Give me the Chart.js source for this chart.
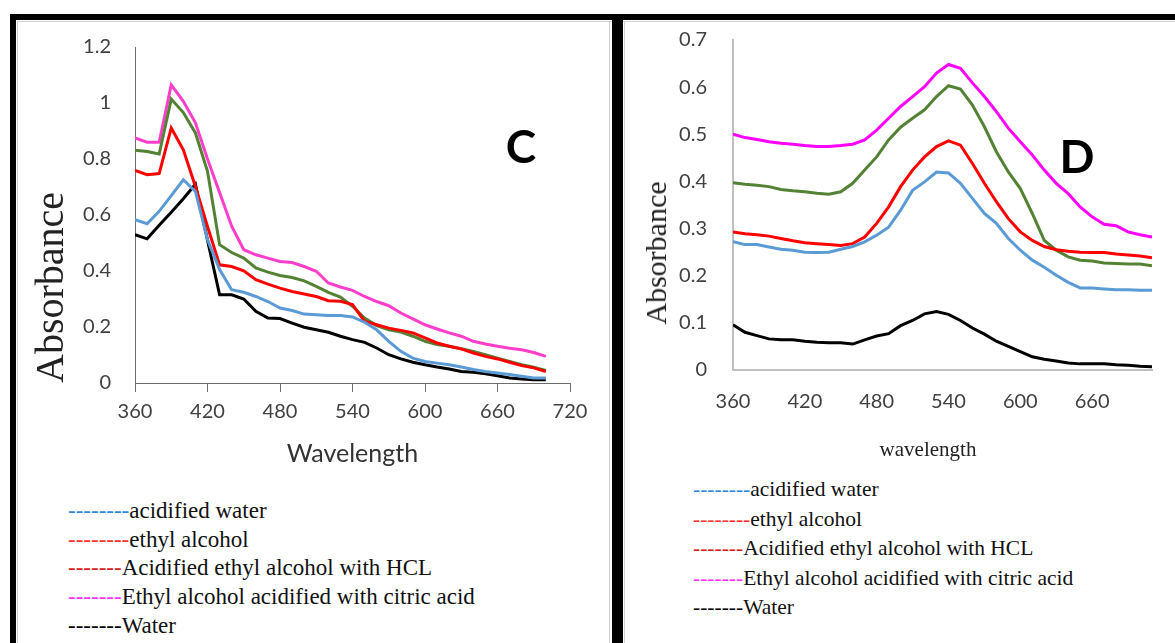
<!DOCTYPE html>
<html>
<head>
<meta charset="utf-8">
<script src="https://cdn.jsdelivr.net/npm/chart.js@4.4.1/dist/chart.umd.min.js"></script>
<style>
  body { margin: 0; background: #fff; }
  #page { position: relative; width: 1175px; height: 643px; overflow: hidden; background: #fff; }
  canvas { position: absolute; top: 0; }
  #chartC { left: 0; }
  #chartD { left: 624px; }
  .bar { position: absolute; background: #000; }
  .thin { position: absolute; background: #d0d0d0; }
  .panelLabel { position: absolute; font: bold 46px Lato, sans-serif; color: #000; transform: translate(-50%, -50%); }
  .serifTitle { position: absolute; font-family: "Liberation Serif", "Times New Roman", serif; color: #222; white-space: nowrap; transform: translate(-50%, -50%); }
  .legend div { position: absolute; font-family: "Liberation Serif", "Times New Roman", serif; line-height: 28px; color: #111; white-space: nowrap; }
  #legendC div { font-size: 23px; }
  #legendD div { font-size: 21.5px; }
</style>
</head>
<body>
<div id="page">
  <canvas id="chartC" width="612" height="480"></canvas>
  <canvas id="chartD" width="551" height="470"></canvas>

  <div class="thin" style="left:17px; top:21px; width:1158px; height:1px;"></div>
  <div class="thin" style="left:17px; top:21px; width:1px; height:622px;"></div>
  <div class="thin" style="left:609px; top:21px; width:1px; height:622px;"></div>
  <div class="thin" style="left:624px; top:21px; width:1px; height:622px;"></div>
  <div class="bar" style="left:10px; top:14px; width:1165px; height:6px;"></div>
  <div class="bar" style="left:10px; top:14px; width:6px; height:629px;"></div>
  <div class="bar" style="left:612px; top:14px; width:11px; height:629px;"></div>

  <div class="panelLabel" style="left:521px; top:145px;">C</div>
  <div class="panelLabel" style="left:1077px; top:155px;">D</div>
  <div class="serifTitle" style="left:656px; top:253px; font-size:30px; transform: translate(-50%, -50%) rotate(-90deg);">Absorbance</div>
  <div class="serifTitle" style="left:928px; top:449px; font-size:21px;">wavelength</div>

  <div class="legend" id="legendC"></div>
  <div class="legend" id="legendD"></div>
</div>

<script>
// wavelengths (nm)
const wavelengthC = [360, 370, 380, 390, 400, 410, 420, 430, 440, 450, 460, 470, 480, 490, 500, 510, 520, 530,
  540, 550, 560, 570, 580, 590, 600, 610, 620, 630, 640, 650, 660, 670, 680, 690, 700];
const wavelengthD = [360, 370, 380, 390, 400, 410, 420, 430, 440, 450, 460, 470, 480, 490, 500, 510, 520, 530,
  540, 550, 560, 570, 580, 590, 600, 610, 620, 630, 640, 650, 660, 670, 680, 690, 700, 710];

// panel C absorbance
const acidWaterC = [0.583, 0.569, 0.613, 0.669, 0.726, 0.684, 0.512, 0.405, 0.333, 0.324, 0.309, 0.291, 0.268, 0.259,
  0.246, 0.244, 0.241, 0.241, 0.236, 0.217, 0.190, 0.149, 0.113, 0.089, 0.077, 0.071, 0.065, 0.057, 0.048, 0.041,
  0.036, 0.030, 0.024, 0.018, 0.018];
const ethylC = [0.759, 0.744, 0.748, 0.911, 0.833, 0.702, 0.559, 0.422, 0.416, 0.401, 0.369, 0.353, 0.339, 0.327,
  0.318, 0.309, 0.294, 0.292, 0.280, 0.220, 0.208, 0.196, 0.188, 0.179, 0.161, 0.143, 0.131, 0.122, 0.107, 0.095,
  0.086, 0.074, 0.062, 0.054, 0.041];
const hclC = [0.831, 0.827, 0.818, 1.014, 0.966, 0.893, 0.756, 0.494, 0.466, 0.446, 0.411, 0.396, 0.384, 0.377,
  0.365, 0.345, 0.324, 0.307, 0.274, 0.232, 0.205, 0.190, 0.182, 0.167, 0.149, 0.137, 0.131, 0.122, 0.113, 0.101,
  0.089, 0.077, 0.065, 0.056, 0.045];
const citricC = [0.875, 0.860, 0.860, 1.065, 1.006, 0.929, 0.800, 0.680, 0.560, 0.476, 0.458, 0.446, 0.434, 0.430,
  0.416, 0.399, 0.357, 0.343, 0.331, 0.309, 0.291, 0.276, 0.250, 0.229, 0.208, 0.193, 0.179, 0.167, 0.149, 0.139,
  0.131, 0.124, 0.119, 0.109, 0.095];
const waterC = [0.530, 0.515, 0.563, 0.610, 0.658, 0.710, 0.510, 0.315, 0.315, 0.300, 0.256, 0.232, 0.230, 0.214,
  0.199, 0.190, 0.181, 0.167, 0.155, 0.145, 0.125, 0.101, 0.086, 0.074, 0.065, 0.057, 0.050, 0.041, 0.038, 0.033,
  0.026, 0.018, 0.014, 0.012, 0.012];

// panel D absorbance
const acidWaterD = [0.272, 0.266, 0.266, 0.261, 0.256, 0.254, 0.250, 0.249, 0.250, 0.256, 0.262, 0.272, 0.286, 0.303,
  0.339, 0.381, 0.399, 0.420, 0.418, 0.396, 0.364, 0.332, 0.311, 0.279, 0.254, 0.233, 0.218, 0.201, 0.186, 0.174,
  0.174, 0.172, 0.170, 0.170, 0.169, 0.169];
const ethylD = [0.293, 0.289, 0.287, 0.284, 0.279, 0.274, 0.270, 0.268, 0.266, 0.264, 0.268, 0.282, 0.311, 0.346,
  0.389, 0.424, 0.452, 0.474, 0.486, 0.477, 0.438, 0.396, 0.357, 0.321, 0.293, 0.275, 0.262, 0.255, 0.252, 0.250,
  0.249, 0.249, 0.246, 0.244, 0.242, 0.238];
const hclD = [0.397, 0.394, 0.392, 0.389, 0.383, 0.380, 0.378, 0.375, 0.373, 0.378, 0.396, 0.424, 0.452, 0.488,
  0.515, 0.534, 0.552, 0.580, 0.603, 0.596, 0.562, 0.516, 0.463, 0.420, 0.385, 0.332, 0.275, 0.254, 0.240, 0.233,
  0.231, 0.227, 0.226, 0.225, 0.225, 0.221];
const citricD = [0.500, 0.493, 0.489, 0.484, 0.481, 0.479, 0.476, 0.474, 0.474, 0.476, 0.479, 0.488, 0.509, 0.534,
  0.559, 0.580, 0.601, 0.630, 0.648, 0.640, 0.609, 0.580, 0.548, 0.513, 0.484, 0.456, 0.424, 0.396, 0.374, 0.346,
  0.325, 0.309, 0.306, 0.293, 0.287, 0.282];
const waterD = [0.096, 0.080, 0.073, 0.066, 0.064, 0.064, 0.061, 0.059, 0.058, 0.058, 0.055, 0.064, 0.072, 0.077,
  0.094, 0.105, 0.119, 0.124, 0.118, 0.105, 0.089, 0.076, 0.061, 0.050, 0.039, 0.028, 0.023, 0.019, 0.015, 0.013,
  0.013, 0.013, 0.011, 0.010, 0.008, 0.007];

// legend (text as printed under each panel)
const seriesNames = ["acidified water", "ethyl alcohol", "Acidified ethyl alcohol with HCL",
  "Ethyl alcohol acidified with citric acid", "Water"];
const legendDashes = ["--------", "--------", "-------", "-------", "-------"];
const legendColors = ["#2e86de", "#ff3030", "#d42020", "#ff33ff", "#000000"];

const lineColors = ["#5b9bd5", "#ff0000", "#548235", "#ff3fcc", "#000000"];
const lineColorsD = ["#5b9bd5", "#ff0000", "#548235", "#ff00ff", "#000000"];

Chart.defaults.font.family = "Lato, sans-serif";

function toPoints(xs, ys) {
  return xs.map((x, i) => ({ x: x, y: ys[i] }));
}

function makeSets(xs, series, colors) {
  return series.map((ys, i) => ({
    label: seriesNames[i],
    data: toPoints(xs, ys),
    borderColor: colors[i],
    backgroundColor: colors[i],
    borderWidth: 3,
    pointRadius: 0,
    tension: 0,
    fill: false
  }));
}

// plain number labels: 1 rather than 1.0
const plainTick = v => String(Math.round(v * 10) / 10);

new Chart(document.getElementById("chartC"), {
  type: "line",
  data: { datasets: makeSets(wavelengthC, [acidWaterC, ethylC, hclC, citricC, waterC], lineColors) },
  options: {
    responsive: false,
    animation: false,
    layout: { padding: { left: 0, top: 47, right: 42, bottom: 0 } },
    plugins: { legend: { display: false }, tooltip: { enabled: false } },
    scales: {
      x: {
        type: "linear", min: 360, max: 720,
        afterFit: s => { s.height = 97; },
        ticks: { stepSize: 60, color: "#404040", font: { size: 20 }, padding: 8, maxRotation: 0 },
        grid: { drawOnChartArea: false, drawTicks: true, tickLength: 9, color: "#6d6d6d" },
        border: { color: "#6d6d6d", width: 1 },
        title: { display: true, text: "Wavelength", color: "#333", font: { size: 25 }, padding: { top: 0, bottom: 11 } }
      },
      y: {
        min: 0, max: 1.2,
        afterFit: s => { s.width = 135; },
        ticks: { stepSize: 0.2, color: "#404040", font: { size: 20 }, padding: 24, callback: plainTick },
        grid: { display: false, drawTicks: false },
        border: { display: true, color: "#6d6d6d", width: 1 },
        title: { display: true, text: "Absorbance", align: "start", color: "#222",
          font: { family: "'Liberation Serif', serif", size: 40 }, padding: { top: 28, bottom: 0 } }
      }
    }
  }
});

new Chart(document.getElementById("chartD"), {
  type: "line",
  data: { datasets: makeSets(wavelengthD, [acidWaterD, ethylD, hclD, citricD, waterD], lineColorsD) },
  options: {
    responsive: false,
    animation: false,
    layout: { padding: { left: 0, top: 40, right: 23, bottom: 0 } },
    plugins: { legend: { display: false }, tooltip: { enabled: false } },
    scales: {
      x: {
        type: "linear", min: 360, max: 710,
        afterFit: s => { s.height = 100; },
        ticks: { stepSize: 60, includeBounds: false, color: "#404040", font: { size: 20 }, padding: 20, maxRotation: 0 },
        grid: { display: false, drawTicks: false },
        border: { display: true, color: "#bfbfbf", width: 2 }
      },
      y: {
        min: 0, max: 0.7,
        afterFit: s => { s.width = 109; },
        ticks: { stepSize: 0.1, color: "#404040", font: { size: 20 }, padding: 26, callback: plainTick },
        grid: { display: false, drawTicks: false },
        border: { display: true, color: "#bfbfbf", width: 2 }
      }
    }
  }
});

function buildLegend(id, left, firstCenter, step) {
  const box = document.getElementById(id);
  seriesNames.forEach((name, i) => {
    const row = document.createElement("div");
    row.style.left = left + "px";
    row.style.top = Math.round(firstCenter + i * step - 14) + "px";
    const dash = document.createElement("span");
    dash.textContent = legendDashes[i];
    dash.style.color = legendColors[i];
    row.appendChild(dash);
    row.appendChild(document.createTextNode(name));
    box.appendChild(row);
  });
}
buildLegend("legendC", 68, 511, 28.7);
buildLegend("legendD", 693, 489, 29.5);
</script>
</body>
</html>
